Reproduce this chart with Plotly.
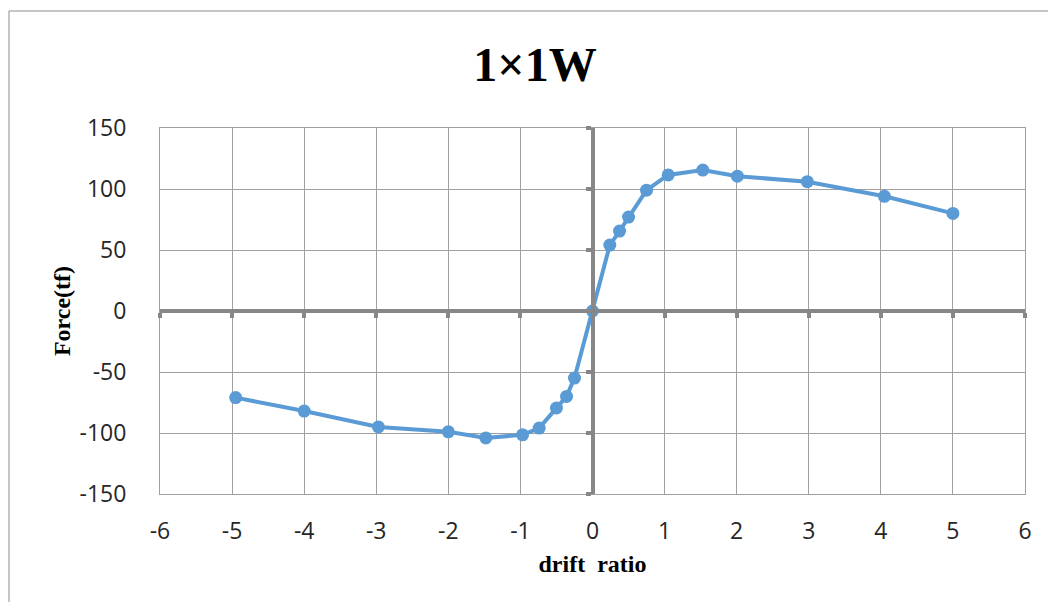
import plotly.graph_objects as go

drift = [-4.95, -4.0, -2.97, -2.0, -1.48, -0.97, -0.74, -0.50, -0.36, -0.25, 0.0,
         0.24, 0.375, 0.50, 0.75, 1.05, 1.53, 2.01, 2.98, 4.05, 5.0]
force = [-71, -82, -95, -99, -104, -101.5, -96, -79.5, -70, -55, 0,
         54, 65.5, 77, 99, 111.5, 115.5, 110.5, 106, 94, 80]

x_ticks = list(range(-6, 7))
y_ticks = list(range(-150, 151, 50))

title_text = "1×1W"
x_title = "drift  ratio"
y_title = "Force(tf)"

# page body has an 8px margin; figure placed so plot area lands at 160..1025 x 128..494
W, H = 1040, 594
L, T = 152, 120
pw, ph = 865, 366
R, B = W - L - pw, H - T - ph

grid_col = "#a0a0a0"
axis_col = "#878787"
line_col = "#5b9bd5"

fig = go.Figure()
fig.add_trace(go.Scatter(
    x=drift, y=force, mode="lines+markers",
    line=dict(color=line_col, width=4),
    marker=dict(color=line_col, size=13),
    showlegend=False, hoverinfo="skip"))
# invisible traces to activate the zero-crossing axes
fig.add_trace(go.Scatter(x=[0], y=[0], xaxis="x2", yaxis="y", mode="markers",
                         marker=dict(opacity=0), showlegend=False, hoverinfo="skip"))
fig.add_trace(go.Scatter(x=[0], y=[0], xaxis="x", yaxis="y2", mode="markers",
                         marker=dict(opacity=0), showlegend=False, hoverinfo="skip"))

tick_font = dict(family="Open Sans, Arial, sans-serif", size=23, color="#262626")
title_font = dict(family="Liberation Serif, Times New Roman, serif", size=24, color="#000000")

fig.update_layout(
    width=W, height=H,
    margin=dict(l=L, r=R, t=T, b=B, pad=0),
    paper_bgcolor="white", plot_bgcolor="white",
    title=dict(text="<b>" + title_text + "</b>", x=(527 / W), xanchor="center",
               y=1 - 56 / H, yanchor="middle",
               font=dict(family="Liberation Serif, Times New Roman, serif", size=48, color="#000000")),
    xaxis=dict(range=[-6, 6], tickmode="array", tickvals=x_ticks,
               ticktext=[str(v) for v in x_ticks],
               showgrid=True, gridcolor=grid_col, gridwidth=1,
               zeroline=False, showline=True, mirror=True, linecolor=grid_col, linewidth=1,
               ticks="", tickfont=tick_font, ticklabelstandoff=16,
               title=dict(text="<b>" + x_title + "</b>", font=title_font, standoff=10),
               fixedrange=True),
    yaxis=dict(range=[-150, 150], tickmode="array", tickvals=y_ticks,
               ticktext=[str(v) for v in y_ticks],
               showgrid=True, gridcolor=grid_col, gridwidth=1,
               zeroline=False, showline=True, mirror=True, linecolor=grid_col, linewidth=1,
               ticks="", tickfont=tick_font, ticklabelstandoff=28,
               title=dict(text="<b>" + y_title + "</b>", font=title_font, standoff=2),
               fixedrange=True),
    xaxis2=dict(overlaying="x", anchor="free", position=0.5, range=[-6, 6],
                tickmode="array", tickvals=x_ticks, showticklabels=False,
                showgrid=False, zeroline=False, showline=True, linecolor=axis_col, linewidth=4,
                ticks="outside", ticklen=5, tickwidth=4, tickcolor=axis_col, side="bottom",
                fixedrange=True),
    yaxis2=dict(overlaying="y", anchor="free", position=0.5, range=[-150, 150],
                tickmode="array", tickvals=y_ticks, showticklabels=False,
                showgrid=False, zeroline=False, showline=True, linecolor=axis_col, linewidth=4,
                ticks="outside", ticklen=5, tickwidth=4, tickcolor=axis_col, side="left",
                fixedrange=True),
    shapes=[dict(type="rect", xref="paper", yref="paper",
                 x0=(1 - L) / pw, x1=1.2, y0=-0.5, y1=1 + (T - 3) / ph,
                 line=dict(color="#8c8c8c", width=1), fillcolor="rgba(0,0,0,0)", layer="below")],
)

fig.write_html("out.html")
